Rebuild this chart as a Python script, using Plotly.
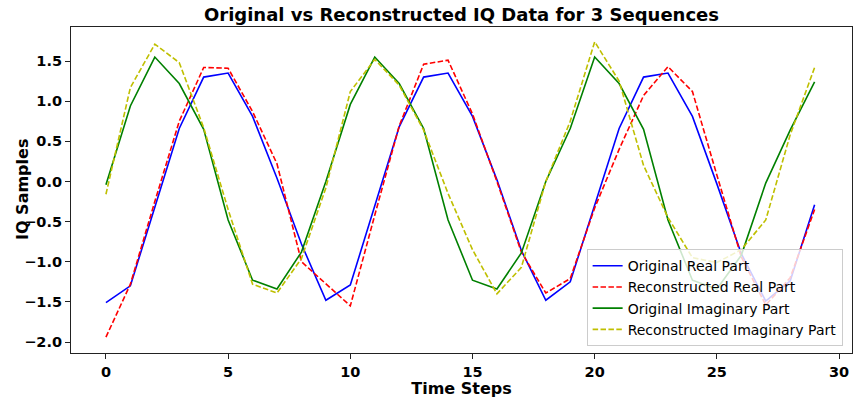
import plotly.graph_objects as go

time_steps = list(range(30))

original_real = [-1.51, -1.30, -0.32, 0.66, 1.30, 1.35, 0.81, 0.04, -0.78, -1.48,
                 -1.29, -0.32, 0.68, 1.30, 1.35, 0.81, 0.02, -0.86, -1.48, -1.25,
                 -0.29, 0.66, 1.30, 1.35, 0.81, -0.03, -0.90, -1.49, -1.24, -0.29]

reconstructed_real = [-1.94, -1.28, -0.25, 0.75, 1.42, 1.41, 0.87, 0.22, -1.00, -1.27,
                      -1.55, -0.42, 0.69, 1.46, 1.51, 0.84, 0.00, -0.88, -1.39, -1.21,
                      -0.33, 0.40, 1.07, 1.43, 1.12, 0.08, -0.94, -1.54, -1.20, -0.35]

original_imag = [-0.04, 0.94, 1.55, 1.22, 0.65, -0.48, -1.23, -1.34, -0.88, 0.00,
                 0.96, 1.55, 1.22, 0.66, -0.48, -1.23, -1.34, -0.89, 0.00, 0.66,
                 1.55, 1.22, 0.65, -0.48, -1.23, -1.34, -0.92, -0.02, 0.64, 1.24]

reconstructed_imag = [-0.16, 1.17, 1.71, 1.48, 0.67, -0.35, -1.28, -1.39, -0.96, -0.08,
                      1.12, 1.52, 1.20, 0.64, -0.15, -0.85, -1.40, -1.07, 0.00, 0.75,
                      1.74, 1.25, 0.20, -0.45, -0.95, -1.01, -0.85, -0.48, 0.58, 1.42]

x_ticks = [0, 5, 10, 15, 20, 25, 30]
y_ticks = [-2.0, -1.5, -1.0, -0.5, 0.0, 0.5, 1.0, 1.5]

FONT = "DejaVu Sans"
DASH = "5.5px,2.4px"

fig = go.Figure()
fig.add_trace(go.Scatter(x=time_steps, y=original_real, mode="lines",
                         name="Original Real Part",
                         line=dict(color="#0000ff", width=1.6)))
fig.add_trace(go.Scatter(x=time_steps, y=reconstructed_real, mode="lines",
                         name="Reconstructed Real Part",
                         line=dict(color="#ff0000", width=1.6, dash=DASH)))
fig.add_trace(go.Scatter(x=time_steps, y=original_imag, mode="lines",
                         name="Original Imaginary Part",
                         line=dict(color="#008000", width=1.6)))
fig.add_trace(go.Scatter(x=time_steps, y=reconstructed_imag, mode="lines",
                         name="Reconstructed Imaginary Part",
                         line=dict(color="#bfbf00", width=1.6, dash=DASH)))

axis_common = dict(
    showgrid=False, zeroline=False, showline=True, mirror=True,
    linecolor="#222222", linewidth=1.2, automargin=False,
    ticks="outside", ticklen=5, tickwidth=1, tickcolor="#222222",
    tickfont=dict(family=FONT, size=14.5, color="black", weight="bold"),
)

PLOT_L, PLOT_R = 71, 852
plot_w = PLOT_R - PLOT_L

fig.update_layout(
    width=858, height=400,
    margin=dict(l=PLOT_L, r=858 - PLOT_R, t=27, b=47, autoexpand=False),
    paper_bgcolor="white", plot_bgcolor="white",
    font=dict(family=FONT, color="black"),
    title=dict(text="<b>Original vs Reconstructed IQ Data for 3 Sequences</b>",
               x=(PLOT_L + PLOT_R) / 2 / 858, xanchor="center", y=1 - 15 / 400, yanchor="middle",
               font=dict(family=FONT, size=18, color="black"), automargin=False),
    xaxis=dict(range=[-1.43, 30.53], tickvals=x_ticks,
               title=dict(text="<b>Time Steps</b>", font=dict(family=FONT, size=16), standoff=2),
               **axis_common),
    yaxis=dict(range=[-2.137, 1.924], tickvals=y_ticks, tickformat=".1f",
               **axis_common),
    legend=dict(x=0.988, y=0.021, xanchor="right", yanchor="bottom",
                bgcolor="rgba(255,255,255,0.8)", bordercolor="#cccccc", borderwidth=1,
                font=dict(family=FONT, size=14, color="black"),
                tracegroupgap=0, itemwidth=30),
    showlegend=True,
    annotations=[dict(text="<b>IQ Samples</b>", xref="paper", yref="paper",
                      x=(22 - PLOT_L) / plot_w, y=0.5, xanchor="center", yanchor="middle",
                      textangle=-90, showarrow=False,
                      font=dict(family=FONT, size=16, color="black"))],
)

fig.write_html("out.html", config={"displayModeBar": False},
               post_script="document.body.style.margin='0';document.body.style.padding='0';")
